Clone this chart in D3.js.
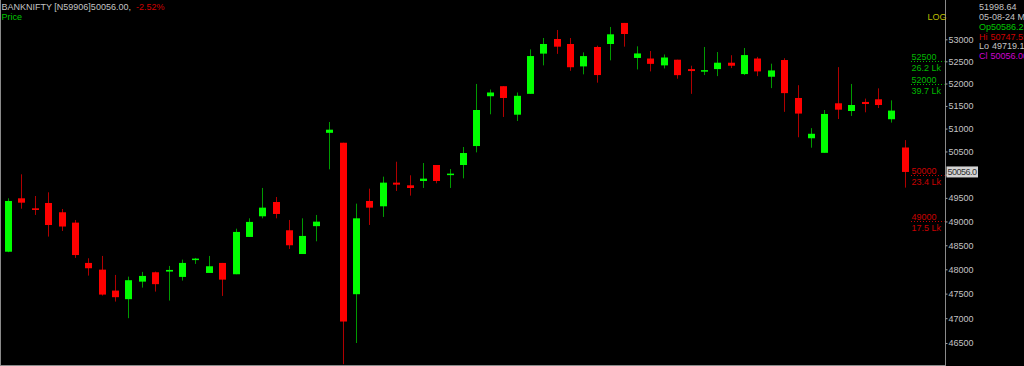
<!DOCTYPE html>
<html>
<head>
<meta charset="utf-8">
<script src="https://cdn.jsdelivr.net/npm/d3@7"></script>
<style>
body { margin: 0; background: #000; }
svg { display: block; font-family: "Liberation Sans", Arial, sans-serif; }
</style>
</head>
<body>
<div id="chart"></div>
<script>
// daily candles (last one from the info panel)
var opens = [48365, 49491, 49278, 49391, 49194, 48975, 48132, 47993, 47562, 47386,
	47746, 47939, 47953, 47843, 48208, 47925, 48132, 47898, 48674, 49109,
	49412, 48814, 48317, 48901, 50907, 50690, 47488, 49434, 49321, 49826,
	49769, 49862, 50206, 49998, 50206, 50618, 51716, 51940, 51306, 51769,
	52674, 53007, 52893, 52385, 52825, 52893, 53375, 52576, 52563, 52408,
	52536, 52324, 52290, 52324, 52468, 52212, 52563, 52152, 52529, 51677,
	50788, 50470, 51559, 51388, 51589, 51648, 51206, 50586.25];
var highs = [49491, 50005, 49540, 49619, 49264, 49031, 48229, 48277, 47884, 47849,
	47946, 47953, 48070, 48201, 48236, 48277, 48132, 48848, 49066, 49712,
	49519, 49031, 49066, 49137, 51145, 50690, 49377, 49697, 49955, 50277,
	49984, 50249, 50206, 50119, 50597, 51990, 51866, 51940, 51799, 52770,
	53030, 53213, 53030, 52702, 52855, 53282, 53375, 52840, 52733, 52655,
	52536, 52400, 52825, 52710, 52638, 52802, 52600, 52446, 52570, 51962,
	51010, 51410, 52368, 51990, 51663, 51892, 51624, 50747.55];
var lows = [48355, 49270, 49137, 48681, 48800, 48236, 47870, 47460, 47337, 47000,
	47623, 47541, 47358, 47767, 48111, 47925, 47453, 47898, 48674, 49066,
	49066, 48423, 48317, 48583, 50112, 46078, 46500, 48926, 49095, 49648,
	49548, 49712, 49812, 49712, 49919, 50480, 51315, 51256, 51167, 51769,
	52408, 52668, 52285, 52206, 52019, 52522, 52832, 52316, 52272, 52339,
	52108, 51769, 52190, 52166, 52346, 52190, 52166, 51897, 51369, 50810,
	50582, 50470, 51211, 51278, 51359, 51454, 51132, 49719.10];
var closes = [49434, 49398, 49243, 48925, 48893, 48296, 48022, 47480, 47427, 47775,
	47863, 47694, 47987, 48132, 48222, 48063, 47787, 48779, 48990, 49292,
	49158, 48500, 48695, 48996, 50976, 46932, 49066, 49292, 49826, 49783,
	49711, 49912, 49862, 50020, 50466, 51410, 51799, 51677, 51725, 52619,
	52893, 52832, 52366, 52618, 52190, 53114, 53121, 52678, 52442, 52586,
	52188, 52280, 52300, 52468, 52400, 52641, 52272, 52294, 51785, 51331,
	50886, 51322, 51417, 51521, 51543, 51521, 51397, 50056.00];

var yTicks = [46500, 47000, 47500, 48000, 48500, 49000, 49500, 50000,
	50500, 51000, 51500, 52000, 52500, 53000];

// volume levels drawn beside the axis
var levelPrices = [52500, 52000, 50000, 49000];
var levelVolumes = ["26.2 Lk", "39.7 Lk", "23.4 Lk", "17.5 Lk"];

var symbol = "BANKNIFTY [N59906]";
var changePct = "-2.52%";
var infoLabels = ["", "", "Op", "Hi", "Lo", "Cl"];
var infoValues = ["51998.64", "05-08-24 Mo", "50586.25", "50747.55", "49719.10", "50056.00"];

var W = 1024, H = 366;
var axisX = 945.5;
var FS = "9px";
var GREEN = "#00ff00", RED = "#ff0000";
var GREEN_WICK = "#009a00", RED_WICK = "#b00000";

var n = closes.length;
var candles = d3.range(n).map(function (i) {
	return { i: i, o: opens[i], h: highs[i], l: lows[i], c: closes[i] };
});
var last = candles[n - 1];

var x = d3.scaleLinear().domain([0, n - 1]).range([8, 904.7]);
var y = d3.scaleLog().domain([46500, 53000]).range([343, 39.3]);

var svg = d3.select("#chart").append("svg")
	.attr("width", W)
	.attr("height", H);

svg.append("rect").attr("width", W).attr("height", H).attr("fill", "#000");

// frame
svg.append("line").attr("x1", 0.5).attr("x2", 0.5).attr("y1", 0).attr("y2", H)
	.attr("stroke", "#8a8a8a");
svg.append("line").attr("x1", 0).attr("x2", axisX).attr("y1", 365.5).attr("y2", 365.5)
	.attr("stroke", "#8a8a8a");

// candles
var g = svg.append("g").attr("class", "candles");

g.selectAll(".wick").data(candles).enter()
	.append("line")
	.attr("class", "wick")
	.attr("x1", function (d) { return Math.round(x(d.i)) + 0.5; })
	.attr("x2", function (d) { return Math.round(x(d.i)) + 0.5; })
	.attr("y1", function (d) { return y(d.h); })
	.attr("y2", function (d) { return y(d.l); })
	.attr("stroke", function (d) { return d.c >= d.o ? GREEN_WICK : RED_WICK; })
	.attr("stroke-width", 1);

g.selectAll(".body").data(candles).enter()
	.append("rect")
	.attr("class", "body")
	.attr("x", function (d) { return Math.round(x(d.i)) - 3; })
	.attr("width", 7)
	.attr("y", function (d) { return y(Math.max(d.o, d.c)); })
	.attr("height", function (d) {
		return Math.max(1.5, Math.abs(y(d.o) - y(d.c)));
	})
	.attr("fill", function (d) { return d.c >= d.o ? GREEN : RED; });

// price axis
svg.append("line").attr("x1", axisX).attr("x2", axisX).attr("y1", 0).attr("y2", H)
	.attr("stroke", "#8a8a8a");

var tagY = y(last.c);

var yAxis = d3.axisRight(y)
	.tickValues(yTicks)
	.tickSize(2)
	.tickPadding(1)
	.tickFormat(d3.format("d"));

var axisG = svg.append("g")
	.attr("transform", "translate(" + axisX + ",0)")
	.call(yAxis);
axisG.select(".domain").remove();
axisG.selectAll(".tick line").attr("stroke", "#a0a0a0");
axisG.selectAll(".tick text")
	.attr("fill", "#c4c4c4")
	.attr("font-size", FS)
	.attr("font-family", "Liberation Sans, Arial, sans-serif");
// the last-price tag hides the tick label under it
axisG.selectAll(".tick")
	.filter(function (d) { return Math.abs(y(d) - tagY) < 9; })
	.select("text").remove();

// volume levels
var lv = svg.append("g").attr("class", "levels");
levelPrices.forEach(function (p, k) {
	var col = p > last.c ? "#00b800" : "#c80000";
	var ly = Math.round(y(p)) + 0.5;
	lv.append("line")
		.attr("x1", 911).attr("x2", axisX - 1)
		.attr("y1", ly).attr("y2", ly)
		.attr("stroke", col)
		.attr("stroke-dasharray", "1,2");
	lv.append("text")
		.attr("x", 911.5).attr("y", ly - 2)
		.attr("fill", col).attr("font-size", FS)
		.text(d3.format("d")(p));
	lv.append("text")
		.attr("x", 911.5).attr("y", ly + 9.5)
		.attr("fill", col).attr("font-size", FS)
		.text(levelVolumes[k]);
});

// last price tag
svg.append("rect")
	.attr("x", 946.5).attr("y", tagY - 5.5)
	.attr("width", 31.5).attr("height", 11)
	.attr("fill", "#d4d4d4");
svg.append("text")
	.attr("x", 947.5).attr("y", tagY + 3.5)
	.attr("fill", "#303030").attr("font-size", FS)
	.attr("textLength", 29.5)
	.text(last.c.toFixed(1));

// header
var title = svg.append("text").attr("x", 1.5).attr("y", 10).attr("font-size", "9px");
title.append("tspan").attr("fill", "#c4c4c4")
	.text(symbol + last.c.toFixed(2) + ",");
title.append("tspan").attr("dx", 5).attr("fill", "#d00000")
	.text(changePct);

svg.append("text").attr("x", 1.5).attr("y", 19.5)
	.attr("fill", "#00c800").attr("font-size", FS).text("Price");

svg.append("text").attr("x", 927.5).attr("y", 20)
	.attr("fill", "#bebe00").attr("font-size", FS).text("LOG");

// info panel (runs off the right edge like the original)
var infoColors = ["#c4c4c4", "#c4c4c4", "#00c800", "#d00000", "#c4c4c4", "#d000d0"];
var infoBase = [10, 20, 30, 39.5, 49.3, 59.3];
infoValues.forEach(function (v, k) {
	var t = svg.append("text").attr("x", 979).attr("y", infoBase[k])
		.attr("fill", infoColors[k]).attr("font-size", FS);
	if (infoLabels[k]) {
		t.append("tspan").text(infoLabels[k]);
		t.append("tspan").attr("dx", k === 2 ? 0 : 3).text(v);
	} else {
		t.text(v);
	}
});
</script>
</body>
</html>
